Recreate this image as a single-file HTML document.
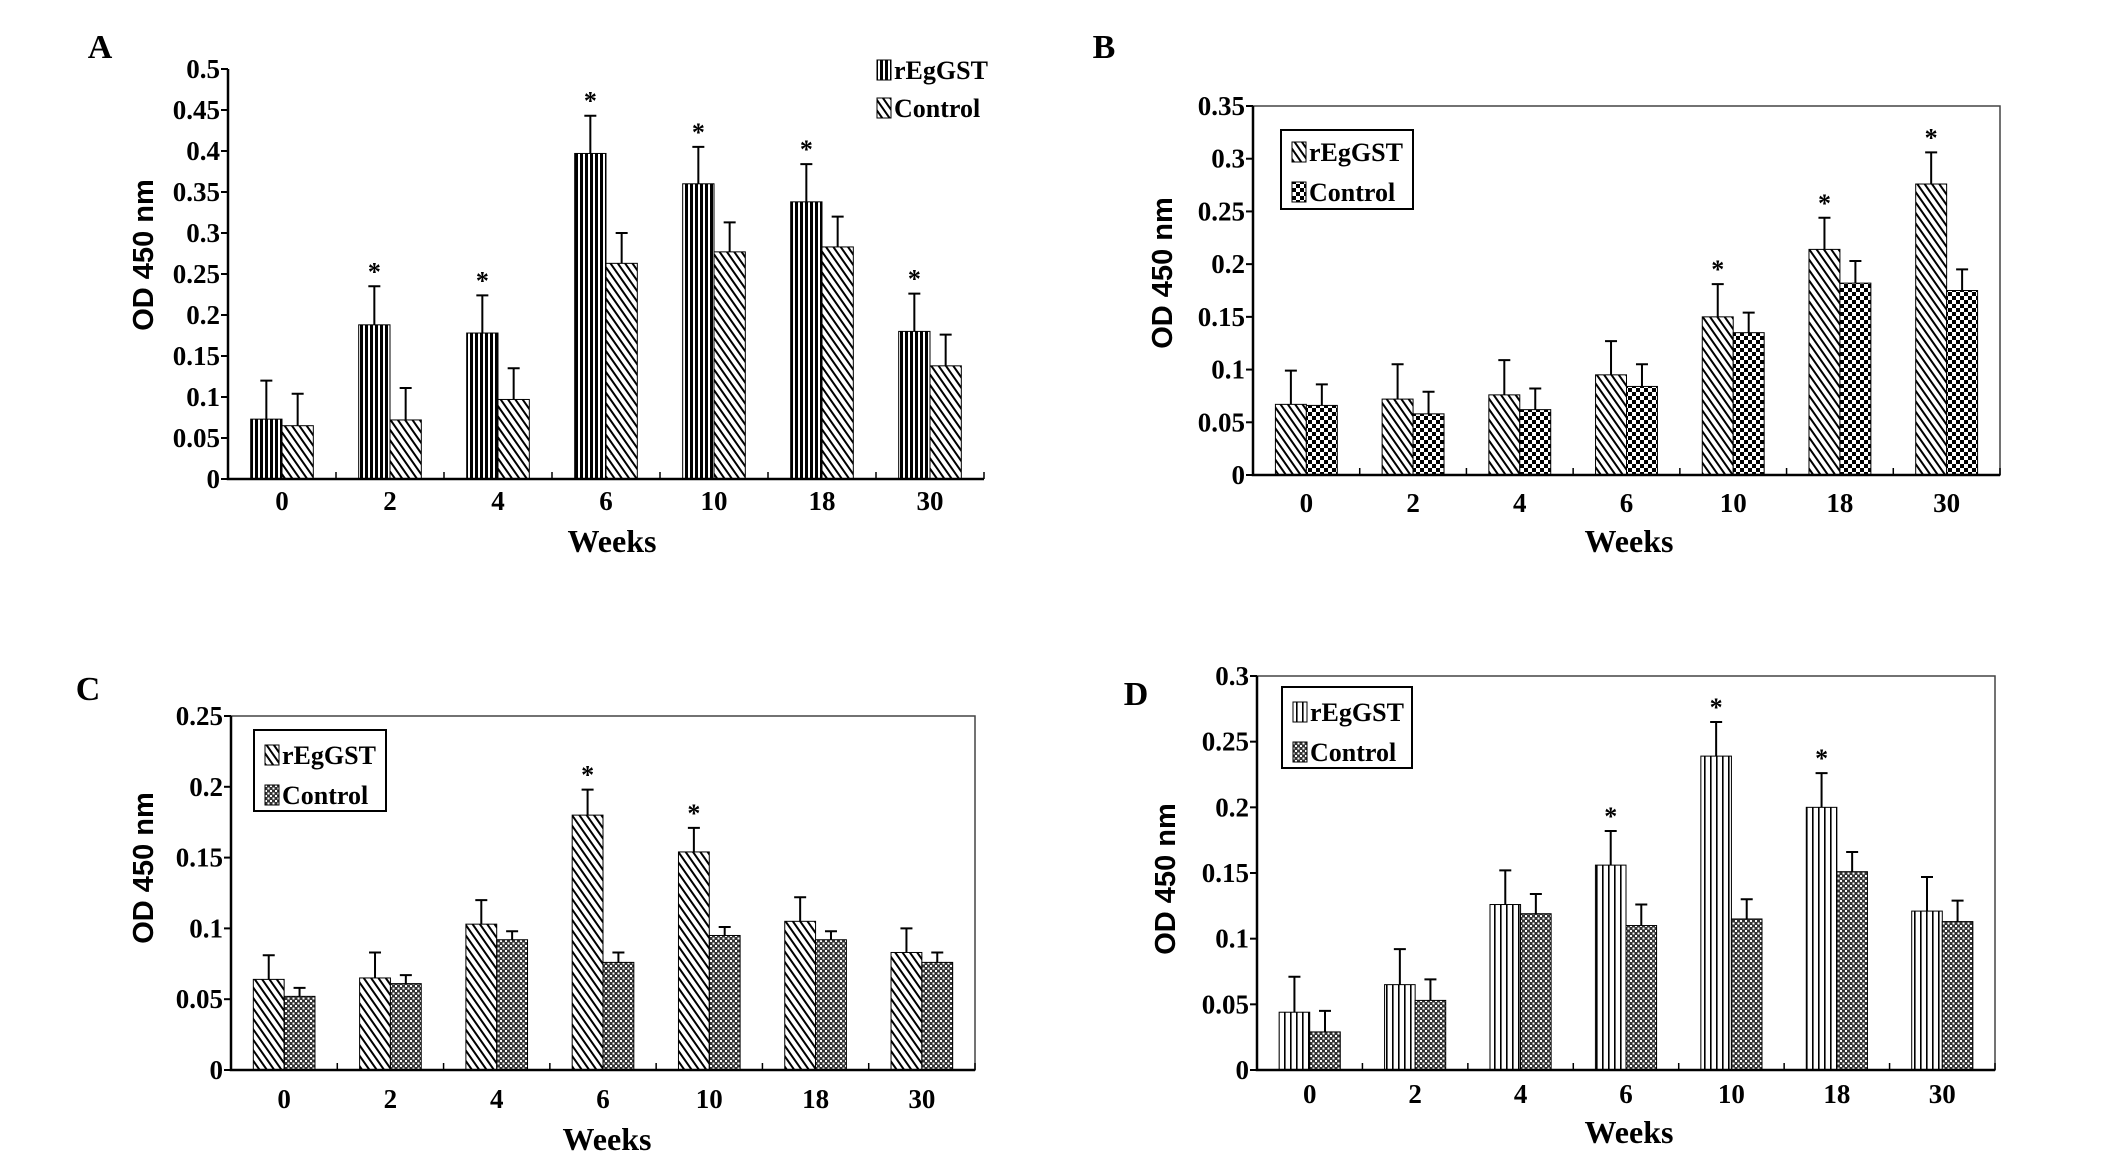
<!DOCTYPE html>
<html><head><meta charset="utf-8">
<style>
html,body{margin:0;padding:0;background:#fff;}
svg{display:block;font-family:"Liberation Serif",serif;}
.t{font-weight:bold;font-size:27px;fill:#000;}
.yt{font-family:"Liberation Sans",sans-serif;font-weight:bold;font-size:29px;fill:#000;}
</style></head>
<body>
<svg id="fig" width="2126" height="1151" viewBox="0 0 2126 1151" xmlns="http://www.w3.org/2000/svg">
<defs>
<pattern id="pVert" width="5" height="5" patternUnits="userSpaceOnUse"><rect width="5" height="5" fill="#fff"/><rect width="3" height="5" fill="#000"/></pattern>
<pattern id="pVertThin" width="6" height="6" patternUnits="userSpaceOnUse"><rect width="6" height="6" fill="#fff"/><rect x="0" width="1.6" height="6" fill="#000"/></pattern>
<pattern id="pDiag" width="6" height="6" patternUnits="userSpaceOnUse" patternTransform="rotate(-35)"><rect width="6" height="6" fill="#fff"/><rect width="2" height="6" fill="#000"/></pattern>
<pattern id="pCheck" width="8" height="8" patternUnits="userSpaceOnUse"><rect width="8" height="8" fill="#fff"/><rect width="4" height="4" fill="#000"/><rect x="4" y="4" width="4" height="4" fill="#000"/></pattern>
<pattern id="pCheckDense" width="5" height="5" patternUnits="userSpaceOnUse"><rect width="5" height="5" fill="#333"/><rect width="2" height="2" fill="#fff"/><rect x="2.5" y="2.5" width="2" height="2" fill="#fff"/></pattern>
</defs>
</svg>
<script>
const categories = ["0","2","4","6","10","18","30"];
const aTreat = [0.073,0.188,0.178,0.397,0.36,0.338,0.18];
const aTreatErr = [0.12,0.235,0.224,0.443,0.405,0.384,0.226];
const aCtrl = [0.065,0.072,0.097,0.263,0.277,0.283,0.138];
const aCtrlErr = [0.104,0.111,0.135,0.3,0.313,0.32,0.176];
const aStars = [1,2,3,4,5,6];
const aTicks = ["0","0.05","0.1","0.15","0.2","0.25","0.3","0.35","0.4","0.45","0.5"];
const bTreat = [0.067,0.072,0.076,0.095,0.15,0.214,0.276];
const bTreatErr = [0.099,0.105,0.109,0.127,0.181,0.244,0.306];
const bCtrl = [0.066,0.058,0.062,0.084,0.135,0.182,0.175];
const bCtrlErr = [0.086,0.079,0.082,0.105,0.154,0.203,0.195];
const bStars = [4,5,6];
const bTicks = ["0","0.05","0.1","0.15","0.2","0.25","0.3","0.35"];
const cTreat = [0.064,0.065,0.103,0.18,0.154,0.105,0.083];
const cTreatErr = [0.081,0.083,0.12,0.198,0.171,0.122,0.1];
const cCtrl = [0.052,0.061,0.092,0.076,0.095,0.092,0.076];
const cCtrlErr = [0.058,0.067,0.098,0.083,0.101,0.098,0.083];
const cStars = [3,4];
const cTicks = ["0","0.05","0.1","0.15","0.2","0.25"];
const dTreat = [0.044,0.065,0.126,0.156,0.239,0.2,0.121];
const dTreatErr = [0.071,0.092,0.152,0.182,0.265,0.226,0.147];
const dCtrl = [0.029,0.053,0.119,0.11,0.115,0.151,0.113];
const dCtrlErr = [0.045,0.069,0.134,0.126,0.13,0.166,0.129];
const dStars = [3,4,5];
const dTicks = ["0","0.05","0.1","0.15","0.2","0.25","0.3"];

const NS="http://www.w3.org/2000/svg";
const svg=document.getElementById('fig');
function mk(tag,attrs,parent){const e=document.createElementNS(NS,tag);for(const k in attrs)e.setAttribute(k,attrs[k]);(parent||svg).appendChild(e);return e;}

function panel(o){
  const g=mk('g',{});
  
  
  const ymax=parseFloat(o.ticks[o.ticks.length-1]);
  const ys=v=>o.y0-(v/ymax)*(o.y0-o.y1);
  const gw=(o.x1-o.x0)/categories.length;
  const xs=i=>o.x0+gw*(i+0.5);
  const bw=gw*0.29;
  // label
  const lab=mk('text',{x:o.lx,y:o.ly,'font-size':34,'font-weight':'bold','text-anchor':'middle'},g);
  lab.textContent=o.id;
  
  
  // frame
  if(o.box){const f=mk('rect',{x:o.x0,y:o.y1,width:o.x1-o.x0,height:o.y0-o.y1,fill:'none',stroke:'#444','stroke-width':1.5},g);
    }
  // bars
  for(let i=0;i<categories.length;i++){
    const series=[[o.t,o.te,o.tp,-1],[o.c,o.ce,o.cp,0]];
    series.forEach((s,k)=>{
      const bx=xs(i)+s[3]*bw;
      const by=ys(s[0][i]);
      const r=mk('rect',{x:bx,y:by,width:bw,height:o.y0-by,fill:'url(#'+s[2]+')',stroke:'#000','stroke-width':1},g);
      
      
      const cx=bx+bw/2, ey=ys(s[1][i]);
      const el=mk('path',{d:`M${cx},${by}V${ey}M${cx-6},${ey}H${cx+6}`,stroke:'#000','stroke-width':2,fill:'none'},g);
      
      
    });
    if(o.stars.includes(i)){
      const st=mk('text',{x:xs(i)-bw/2,y:ys(o.te[i])-6,'font-size':26,'font-weight':'bold','text-anchor':'middle'},g);
      st.textContent='*';
      
      
    }
    const tl=mk('text',{x:xs(i),y:o.xty,'text-anchor':'middle',class:'t'},g);
    tl.textContent=categories[i];
    
    
  }
  // axes
  const ax=mk('path',{d:`M${o.x0},${o.y1}V${o.y0}H${o.x1}`,stroke:'#000','stroke-width':2.5,fill:'none'},g);
  
  
  for(let i=0;i<=categories.length;i++){
    const x=o.x0+gw*i;
    mk('line',{x1:x,x2:x,y1:o.y0,y2:o.y0-7,stroke:'#000','stroke-width':1.5},g);
  }
  o.ticks.forEach(t=>{
    const y=ys(parseFloat(t));
    mk('line',{x1:o.x0-7,x2:o.x0,y1:y,y2:y,stroke:'#000','stroke-width':2},g);
    const tt=mk('text',{x:o.x0-8,y:y+9,'text-anchor':'end',class:'t'},g);
    tt.textContent=t;
    
    
  });
  const xt=mk('text',{x:o.wx,y:o.wy,'text-anchor':'middle','font-size':32,'font-weight':'bold'},g);
  xt.textContent='Weeks';
  
  
  const yt=mk('text',{x:0,y:0,'text-anchor':'middle',class:'yt',transform:`translate(${o.ytx},${o.yty}) rotate(-90)`},g);
  yt.textContent='OD 450 nm';
  
  
  // legend
  const lg=mk('g',{},g);
  
  
  if(o.lbox){mk('rect',{x:o.lbox[0],y:o.lbox[1],width:o.lbox[2],height:o.lbox[3],fill:'#fff',stroke:'#000','stroke-width':2},lg);}
  [[o.tp,'rEgGST',o.lr[0]],[o.cp,'Control',o.lr[1]]].forEach(e=>{
    const le=mk('g',{},lg);
    
    
    mk('rect',{x:o.lxk,y:e[2]-10,width:14,height:20,fill:'url(#'+e[0]+')',stroke:'#000','stroke-width':1},le);
    const lt=mk('text',{x:o.lxk+17,y:e[2]+9,'font-size':26,'font-weight':'bold'},le);
    lt.textContent=e[1];
  });
}
panel({id:'A',t:aTreat,te:aTreatErr,c:aCtrl,ce:aCtrlErr,stars:aStars,ticks:aTicks,tp:'pVert',cp:'pDiag',
  x0:228,x1:984,y0:479,y1:69,box:false,lx:100,ly:58,xty:510,wx:612,wy:552,ytx:153,yty:255,lbox:null,lxk:877,lr:[70,108]});
panel({id:'B',t:bTreat,te:bTreatErr,c:bCtrl,ce:bCtrlErr,stars:bStars,ticks:bTicks,tp:'pDiag',cp:'pCheck',
  x0:1253,x1:2000,y0:475,y1:106,box:true,lx:1104,ly:58,xty:512,wx:1629,wy:552,ytx:1172,yty:273,lbox:[1281,130,132,79],lxk:1292,lr:[152,192]});
panel({id:'C',t:cTreat,te:cTreatErr,c:cCtrl,ce:cCtrlErr,stars:cStars,ticks:cTicks,tp:'pDiag',cp:'pCheckDense',
  x0:231,x1:975,y0:1070,y1:716,box:true,lx:88,ly:700,xty:1108,wx:607,wy:1150,ytx:153,yty:868,lbox:[254,730,132,81],lxk:265,lr:[755,795]});
panel({id:'D',t:dTreat,te:dTreatErr,c:dCtrl,ce:dCtrlErr,stars:dStars,ticks:dTicks,tp:'pVertThin',cp:'pCheckDense',
  x0:1257,x1:1995,y0:1070,y1:676,box:true,lx:1136,ly:705,xty:1103,wx:1629,wy:1143,ytx:1175,yty:879,lbox:[1282,687,130,81],lxk:1293,lr:[712,752]});
</script>
</body></html>
